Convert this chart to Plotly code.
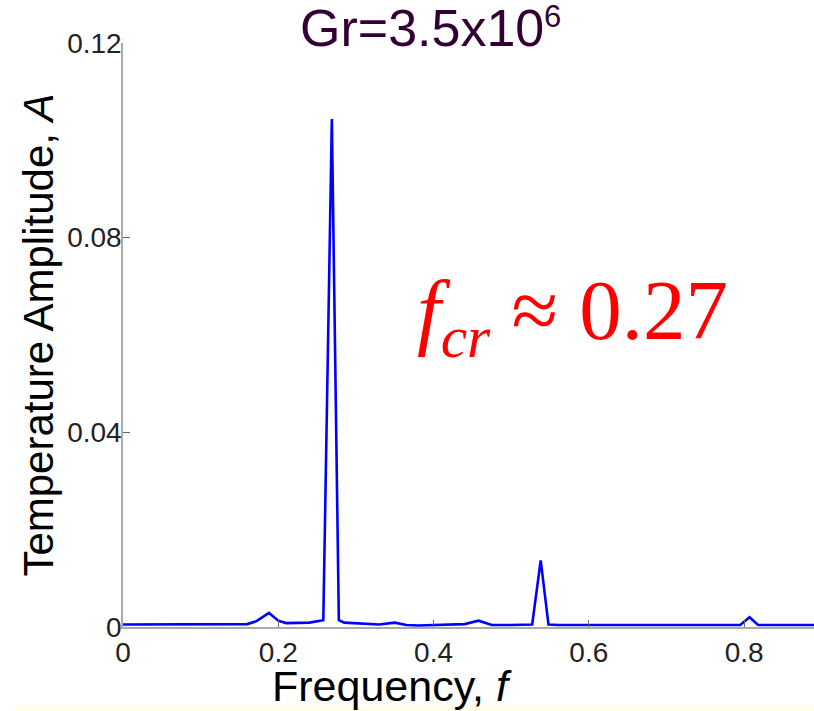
"""
Temperature amplitude spectrum, Gr=3.5x10^6.
"""
import plotly.graph_objects as go

freq = [0.000, 0.040, 0.080, 0.120, 0.160, 0.172, 0.188, 0.200, 0.210, 0.240,
        0.255, 0.258, 0.269, 0.278, 0.285, 0.310, 0.330, 0.350, 0.365, 0.380,
        0.420, 0.440, 0.458, 0.475, 0.500, 0.527, 0.538, 0.548, 0.560, 0.600,
        0.650, 0.700, 0.750, 0.795, 0.807, 0.818, 0.850, 0.890]
amp = [0.0005, 0.0005, 0.0005, 0.0006, 0.0006, 0.0012, 0.0029, 0.0013, 0.0008, 0.0009,
       0.0012, 0.0014, 0.1044, 0.0014, 0.0009, 0.0006, 0.0005, 0.0009, 0.0004, 0.0003,
       0.0004, 0.0006, 0.0013, 0.0004, 0.0004, 0.0005, 0.0137, 0.0005, 0.0004, 0.0004,
       0.0004, 0.0004, 0.0004, 0.0004, 0.0020, 0.0004, 0.0004, 0.0004]

x_ticks = [0, 0.2, 0.4, 0.6, 0.8]
x_labels = ["0", "0.2", "0.4", "0.6", "0.8"]
y_ticks = [0, 0.04, 0.08, 0.12]
y_labels = ["0", "0.04", "0.08", "0.12"]

sans = "Liberation Sans, Arial, sans-serif"

fig = go.Figure()
fig.add_trace(go.Scatter(x=freq, y=amp, mode="lines",
                         line=dict(color="#0000ff", width=2.6),
                         showlegend=False, cliponaxis=False))

fig.update_xaxes(range=[0, 0.89], tickvals=x_ticks, ticktext=x_labels,
                 ticks="inside", ticklen=7, tickcolor="#666", tickwidth=1,
                 showline=True, linecolor="#aaa", linewidth=1.5,
                 showgrid=False, zeroline=False, automargin=False,
                 tickfont=dict(family=sans, size=28, color="#222"))
fig.update_yaxes(range=[0, 0.12], tickvals=y_ticks, ticktext=y_labels,
                 ticks="inside", ticklen=7, tickcolor="#666", tickwidth=1,
                 showline=True, linecolor="#aaa", linewidth=1.5,
                 showgrid=False, zeroline=False, automargin=False,
                 ticklabelstandoff=-6,
                 tickfont=dict(family=sans, size=28, color="#222"),
                 title=dict(text="Temperature Amplitude, <i>A</i>", standoff=0,
                            font=dict(family=sans, size=42, color="#000")))

# x title sits left of the plot centre in the original, so use an annotation
fig.add_annotation(xref="paper", yref="paper", x=0.2127, y=-0.0557,
                   xanchor="left", yanchor="top", showarrow=False,
                   text="Frequency, <i>f</i>",
                   font=dict(family=sans, size=43, color="#000"))

fig.add_annotation(xref="paper", yref="paper", x=0.423, y=0.531,
                   xanchor="left", yanchor="middle", showarrow=False,
                   text="<i>f</i><sub><i>cr</i></sub> \u2248 0.27",
                   font=dict(family="Liberation Serif, Times New Roman, serif",
                             size=85, color="#ff0000"))

# exponent of the title, drawn separately so it sits lower than <sup>
fig.add_annotation(xref="paper", yref="paper", x=(542 - 123) / 691, y=1.0 + (43 - 17) / 584,
                   xanchor="left", yanchor="middle", showarrow=False,
                   text="6", font=dict(family=sans, size=31, color="#330033"))

# pale strip along the bottom edge
fig.add_shape(type="rect", xref="paper", yref="paper",
              x0=-0.156, x1=1.0, y0=-0.1438, y1=-0.1353,
              fillcolor="#ffffe6", line=dict(width=0), layer="below")

fig.update_layout(
    width=814, height=711,
    margin=dict(l=123, r=0, t=43, b=84, autoexpand=False),
    paper_bgcolor="white", plot_bgcolor="white",
    title=dict(text="Gr=3.5x10", x=0.3686, xanchor="left",
               yref="container", y=0.961, yanchor="middle",
               font=dict(family=sans, size=52, color="#330033")),
)

fig.write_html("out.html", config={"displayModeBar": False},
               post_script="document.body.style.margin='0px';"
                           "document.body.style.overflow='hidden';")
